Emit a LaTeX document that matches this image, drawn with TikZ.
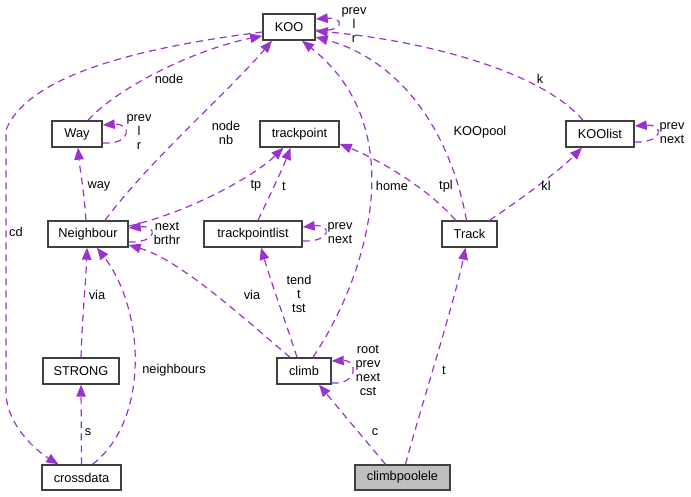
\documentclass[tikz,border=0pt]{standalone}
\usepackage{fontspec}
\setmainfont{Liberation Sans}
\usetikzlibrary{arrows.meta,calc}
\definecolor{edgepurple}{HTML}{9A32CD}
\definecolor{boxgray}{HTML}{BFBFBF}
\begin{document}
\begin{tikzpicture}[x=1pt,y=-1pt,
  cls/.style={draw=black!75,line width=1.4pt,fill=white,minimum height=26pt,inner sep=0pt,
    font=\fontsize{12.8}{14}\selectfont},
  rel/.style={draw=edgepurple,line width=1.2pt,dash pattern=on 7pt off 5pt,
    -{Triangle[length=12pt,width=9.5pt]},fill=none},
  lbl/.style={font=\fontsize{12.8}{14}\selectfont,align=center,inner sep=0pt}]
\useasboundingbox (0,0) rectangle (691,497);
% classes
\node[cls,minimum width=52pt] (KOO) at (289,27) {KOO};
\node[cls,minimum width=50pt] (Way) at (77,134) {Way};
\node[cls,minimum width=79pt] (trackpoint) at (299.5,134) {trackpoint};
\node[cls,minimum width=68pt] (KOOlist) at (600,134) {KOOlist};
\node[cls,minimum width=80pt] (Neighbour) at (88,234) {Neighbour};
\node[cls,minimum width=98pt] (trackpointlist) at (253,234) {trackpointlist};
\node[cls,minimum width=55pt] (Track) at (469.5,234) {Track};
\node[cls,minimum width=76pt] (STRONG) at (81,371) {STRONG};
\node[cls,minimum width=54pt] (climb) at (304,371) {climb};
\node[cls,minimum width=79pt,minimum height=25pt] (crossdata) at (81.5,477.5) {crossdata};
\node[cls,minimum width=95pt,minimum height=25pt,fill=boxgray] (climbpoolele) at (402.5,477.5) {climbpoolele};
% edges
\draw[rel] ($(Way.north)+(11,0)$) .. controls (120,85) and (200,48) .. ($(KOO.west)+(0,9)$);
\draw[rel] ($(KOO.west)+(0,5)$) .. controls (160,45) and (30,70) .. (6,130) -- (6,395) .. controls (8,425) and (35,450) .. ($(crossdata.north)+(-23,0)$);
\draw[rel] ($(KOO.east)+(0,3)$) .. controls (345,33) and (345,17) .. ($(KOO.east)+(0,-8)$);
\draw[rel] ($(Neighbour.north)+(17,0)$) .. controls (150,160) and (230,90) .. ($(KOO.south)+(-17,0)$);
\draw[rel] ($(Way.east)+(0,9)$) .. controls (132,145) and (132,123) .. ($(Way.east)+(0,-9)$);
\draw[rel] ($(Neighbour.north)+(-2,0)$) .. controls (84,190) and (80,170) .. ($(Way.south)+(1,0)$);
\draw[rel] ($(Neighbour.east)+(0,-8)$) .. controls (180,215) and (250,180) .. ($(trackpoint.south)+(-16,0)$);
\draw[rel] ($(Neighbour.east)+(0,8)$) .. controls (158,243) and (158,225) .. ($(Neighbour.east)+(0,-6)$);
\draw[rel] ($(trackpointlist.north)+(5,0)$) .. controls (270,195) and (282,170) .. ($(trackpoint.south)+(-9,0)$);
\draw[rel] ($(trackpointlist.east)+(0,7)$) .. controls (332,242) and (332,224) .. ($(trackpointlist.east)+(0,-7)$);
\draw[rel] ($(Track.north)+(-14,0)$) .. controls (430,190) and (380,160) .. ($(trackpoint.east)+(0,10)$);
\draw[rel] ($(Track.north)+(20,0)$) .. controls (520,200) and (560,170) .. ($(KOOlist.south)+(-18,0)$);
\draw[rel] ($(KOOlist.north)+(-17,0)$) .. controls (540,70) and (420,40) .. ($(KOO.east)+(0,4)$);
\draw[rel] ($(KOOlist.east)+(0,8)$) .. controls (664,143) and (664,124) .. ($(KOOlist.east)+(0,-8)$);
\draw[rel] ($(Track.north)+(-3,0)$) .. controls (450,130) and (400,60) .. ($(KOO.east)+(0,10)$);
\draw[rel] ($(climb.north)+(9,0)$) .. controls (365,280) and (415,130) .. ($(KOO.south)+(13,0)$);
\draw[rel] ($(climb.north)+(-14,0)$) .. controls (240,315) and (180,260) .. ($(Neighbour.east)+(0,11)$);
\draw[rel] ($(climb.north)+(-7,0)$) .. controls (285,320) and (272,285) .. ($(trackpointlist.south)+(8,0)$);
\draw[rel] ($(climb.east)+(0,12)$) .. controls (358,385) and (358,360) .. ($(climb.east)+(0,-10)$);
\draw[rel] (STRONG.north) .. controls (82,320) and (86,280) .. ($(Neighbour.south)+(-1,0)$);
\draw[rel] (crossdata.north) -- (STRONG.south);
\draw[rel] ($(crossdata.north)+(11,0)$) .. controls (150,420) and (145,310) .. ($(Neighbour.south)+(9,0)$);
\draw[rel] ($(climbpoolele.north)+(-17,0)$) .. controls (365,440) and (340,410) .. ($(climb.south)+(15,0)$);
\draw[rel] ($(climbpoolele.north)+(3,0)$) .. controls (420,410) and (455,300) .. ($(Track.south)+(-4,0)$);
% labels
\node[lbl] (lKOOself) at (354,25) {prev\\l\\r};
\node[lbl] (lnode) at (169,79) {node};
\node[lbl] (lWayself) at (139,132) {prev\\l\\r};
\node[lbl] (lnodenb) at (226,133) {node\\nb};
\node[lbl] (lway) at (99,186) {way};
\node[lbl] (ltp) at (256,186) {tp};
\node[lbl] (lt1) at (284,186) {t};
\node[lbl] (lNself) at (167,233) {next\\brthr};
\node[lbl] (lTPLself) at (340,233) {prev\\next};
\node[lbl] (lcd) at (16,232) {cd};
\node[lbl] (lhome) at (392,186) {home};
\node[lbl] (lKOOpool) at (480,132) {KOOpool};
\node[lbl] (lk) at (540,79) {k};
\node[lbl] (ltpl) at (446,186) {tpl};
\node[lbl] (lkl) at (546,186) {kl};
\node[lbl] (lKLself) at (672,133) {prev\\next};
\node[lbl] (lvia1) at (97,295) {via};
\node[lbl] (lvia2) at (252,295) {via};
\node[lbl] (ltend) at (299,294) {tend\\t\\tst};
\node[lbl] (lneigh) at (174,370) {neighbours};
\node[lbl] (lclimbself) at (368,370) {root\\prev\\next\\cst};
\node[lbl] (lt2) at (444,370) {t};
\node[lbl] (ls) at (88,432) {s};
\node[lbl] (lc) at (375,432) {c};
\end{tikzpicture}
\end{document}
